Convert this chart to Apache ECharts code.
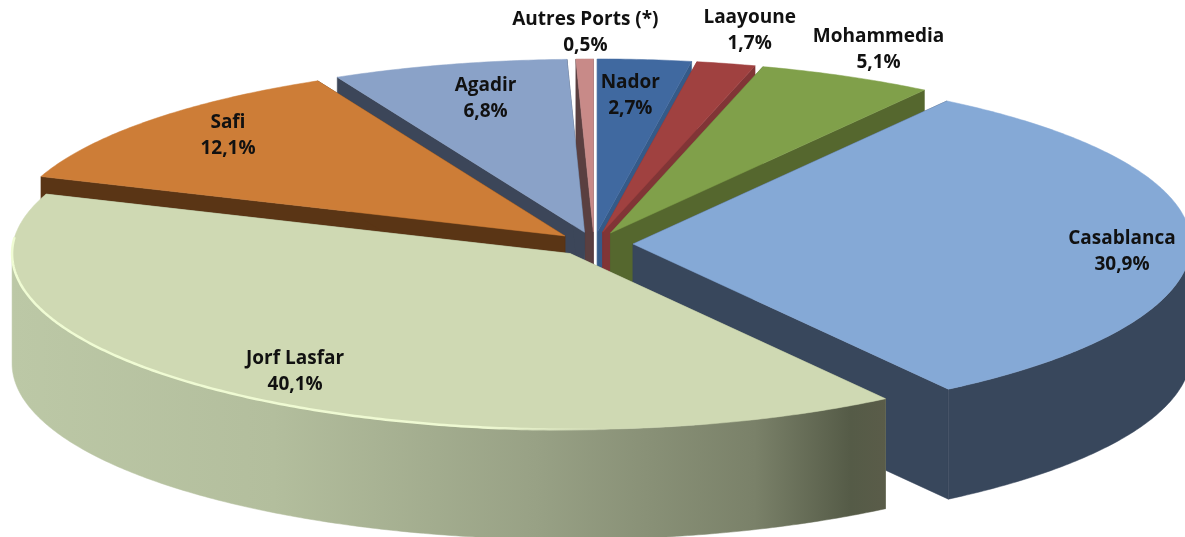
<!DOCTYPE html>
<html>
<head>
<meta charset="utf-8">
<script src="https://cdn.jsdelivr.net/npm/echarts@6/dist/echarts.min.js"></script>
<style>html,body{margin:0;padding:0;background:#fff}#c{width:1185px;height:537px}</style>
</head>
<body>
<div id="c"></div>
<script>
// ---- data (clockwise from 12 o'clock) ----
const ports = ['Nador', 'Laayoune', 'Mohammedia', 'Casablanca', 'Jorf Lasfar', 'Safi', 'Agadir', 'Autres Ports (*)'];
const shares = [2.7, 1.7, 5.1, 30.9, 40.1, 12.1, 6.8, 0.5];

// ---- styles ----
const topColors = ['#4069a0', '#a04140', '#80a04a', '#85a9d6', '#cfd9b3', '#cd7d37', '#8aa2c8', '#c88a88'];
const wallColors = ['#355a88', '#813536', '#55672e', '#38475c', '#8f967a', '#5a3515', '#3c4659', '#5a3f40'];
const labelOffsets = [[33, -136], [147, -202], [268, -183], [489, 8], [-275, 118], [-337, -100], [-99, -134], [-8, -199]];

// ---- 3D pie projection (front half slightly taller: perspective) ----
const CX = 594, CY = 244, RX = 558, RY_BACK = 173, RY_FRONT = 176, DEPTH = 110, EXPLODE = 39, EXPLODE_Y = 0.31;
const TAU = Math.PI * 2;
const total = shares.reduce((a, b) => a + b, 0);
const starts = [];
shares.reduce((acc, v, i) => { starts[i] = acc; return acc + v; }, 0);
const mids = shares.map((v, i) => (starts[i] + v / 2) / total * TAU);
const depthOrder = mids.map((m, i) => [Math.cos(m), i]).sort((p, q) => q[0] - p[0]).map(p => p[1]);

function arcPoints(ax, ay, t0, t1, dy) {
  const n = Math.max(2, Math.ceil((t1 - t0) / 0.01));
  const pts = [];
  for (let k = 0; k <= n; k++) {
    const t = t0 + (t1 - t0) * k / n;
    const c = Math.cos(t);
    pts.push([ax + RX * Math.sin(t), ay - (c > 0 ? RY_BACK : RY_FRONT) * c + (dy || 0)]);
  }
  return pts;
}

function renderSlice(params, api) {
  const i = params.dataIndex;
  const v = api.value(0);
  const t0 = starts[i] / total * TAU;
  const t1 = t0 + v / total * TAU;
  const mid = (t0 + t1) / 2;
  const ax = CX + EXPLODE * Math.sin(mid);
  const ay = CY - EXPLODE * EXPLODE_Y * Math.cos(mid);
  const rank = depthOrder.indexOf(i) * 10 + 1;
  const top = arcPoints(ax, ay, t0, t1, 0);
  const children = [];
  const wall = (pts, fill, z) => children.push({
    type: 'polygon', shape: { points: pts }, z2: z,
    style: { fill: fill, stroke: fill, lineWidth: 0.5 }, silent: true
  });
  const first = top[0], last = top[top.length - 1];
  wall([[ax, ay], first, [first[0], first[1] + DEPTH], [ax, ay + DEPTH]], wallColors[i], rank);
  wall([[ax, ay], last, [last[0], last[1] + DEPTH], [ax, ay + DEPTH]], wallColors[i], rank);
  const w0 = Math.max(t0, Math.PI / 2), w1 = Math.min(t1, Math.PI * 1.5);
  const isGrad = i === 4;
  if (w1 > w0) {
    const up = arcPoints(ax, ay, w0, w1, 0);
    const down = arcPoints(ax, ay, w0, w1, DEPTH).reverse();
    const fill = isGrad ? new echarts.graphic.LinearGradient(1, 0, 0, 0, [
      { offset: 0, color: '#5a5c49' },
      { offset: 0.04, color: '#555b47' },
      { offset: 0.15, color: '#7a8169' },
      { offset: 0.4, color: '#98a185' },
      { offset: 0.7, color: '#b3be9d' },
      { offset: 1, color: '#bcc8a6' }
    ]) : wallColors[i];
    wall(up.concat(down), fill, rank + 1);
  }
  children.push({
    type: 'polygon', shape: { points: [[ax, ay]].concat(top) }, z2: rank + 2, silent: true,
    style: { fill: topColors[i], stroke: topColors[i], lineWidth: 0.5 }
  });
  if (isGrad) {
    children.push({
      type: 'polyline', shape: { points: arcPoints(ax, ay, Math.PI * 0.98, Math.PI * 1.53, 0) }, z2: rank + 3, silent: true,
      style: {
        fill: 'none', lineWidth: 2.5,
        stroke: new echarts.graphic.LinearGradient(0, 0, 1, 0, [
          { offset: 0, color: '#f0fcd4' },
          { offset: 0.8, color: '#eef9d2' },
          { offset: 1, color: 'rgba(240,250,210,0)' }
        ])
      }
    });
  }
  children.push({
    type: 'text', z2: 1000, silent: true,
    style: {
      x: ax + labelOffsets[i][0], y: ay + labelOffsets[i][1],
      text: ports[i] + '\n' + v.toFixed(1).replace('.', ',') + '%',
      font: 'bold 19px "Open Sans"', fill: '#111', align: 'center', verticalAlign: 'middle', lineHeight: 26
    }
  });
  return { type: 'group', children: children };
}

const chart = echarts.init(document.getElementById('c'), null, { renderer: 'canvas' });
chart.setOption({
  animation: false,
  backgroundColor: '#ffffff',
  series: [{
    type: 'custom',
    coordinateSystem: 'none',
    silent: true,
    renderItem: renderSlice,
    data: shares.map((v, i) => ({ name: ports[i], value: [v] }))
  }]
});
</script>
</body>
</html>
